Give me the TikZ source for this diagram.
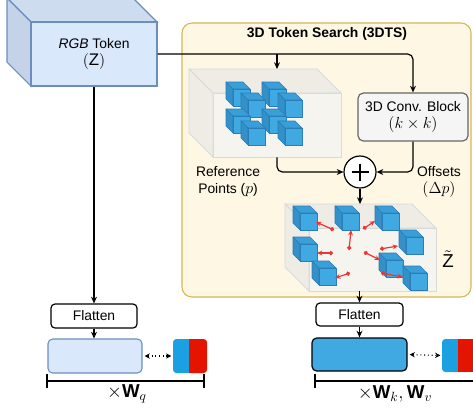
\documentclass[tikz,border=0pt]{standalone}
\usepackage{fontspec}
\setmainfont{Liberation Sans}
\usetikzlibrary{arrows.meta}

% top and left faces of a box whose bounding square starts at (#1,#2),
% width #3, height #4, depth #5; face styles are #6top / #6side
\newcommand{\cubesides}[6]{%
  \filldraw[#6top] (#1,#2) -- (#1+#3-#5,#2) -- (#1+#3,#2+#5) -- (#1+#5,#2+#5) -- cycle;
  \filldraw[#6side] (#1,#2) -- (#1+#5,#2+#5) -- (#1+#5,#2+#4) -- (#1,#2+#4-#5) -- cycle;}
% small solid blue cube
\newcommand{\bluecube}[2]{%
  \cubesides{#1}{#2}{24}{24}{7}{cube}%
  \filldraw[cubefront] (#1+7,#2+7) rectangle (#1+24,#2+24);}
% math set a little larger than the sans text
\newcommand{\mth}[1]{{\fontsize{12.6}{12.8}\selectfont$#1$}}

\definecolor{rgbF}{HTML}{DAE8FC}
\definecolor{rgbT}{HTML}{CEDCF0}
\definecolor{rgbS}{HTML}{C4D3E8}
\definecolor{rgbE}{HTML}{6C8EBF}
\definecolor{cubF}{HTML}{41A9E1}
\definecolor{cubT}{HTML}{3A9FD8}
\definecolor{cubS}{HTML}{3390C8}
\definecolor{cubE}{HTML}{2A7DB6}
\definecolor{boxF}{HTML}{F6F4EE}
\definecolor{boxS}{HTML}{EEECE5}
\definecolor{boxE}{HTML}{D9DADA}
\definecolor{panelF}{HTML}{FEF7E4}
\definecolor{panelE}{HTML}{D6B656}
\definecolor{convF}{HTML}{F5F5F5}
\definecolor{convE}{HTML}{666666}
\definecolor{tokB}{HTML}{1BA1E2}
\definecolor{tokR}{HTML}{E51400}
\definecolor{offR}{HTML}{EE3535}

\begin{document}
\begin{tikzpicture}[x=0.75pt,y=-0.75pt,
  every node/.style={font=\fontsize{10.4}{12.8}\selectfont, inner sep=0pt, align=center},
  rgbtop/.style={fill=rgbT, draw=rgbE, line width=0.8pt},
  rgbside/.style={fill=rgbS, draw=rgbE, line width=0.8pt},
  rgbfront/.style={fill=rgbF, draw=rgbE, line width=0.8pt},
  cubetop/.style={fill=cubT, draw=cubE, line width=0.5pt, line join=round},
  cubeside/.style={fill=cubS, draw=cubE, line width=0.5pt, line join=round},
  cubefront/.style={fill=cubF, draw=cubE, line width=0.5pt},
  gboxtop/.style={fill=boxS, draw=boxE, line width=0.6pt},
  gboxside/.style={fill=boxS, draw=boxE, line width=0.6pt},
  gboxfront/.style={fill=boxF, draw=boxE, line width=0.6pt},
  panel/.style={fill=panelF, draw=panelE, line width=0.8pt, rounded corners=7.5pt},
  convbox/.style={fill=convF, draw=convE, line width=0.9pt, rounded corners=4pt},
  flatbox/.style={fill=white, draw=black, line width=0.9pt, rounded corners=3pt},
  qbox/.style={fill=rgbF, draw=rgbE, line width=0.8pt, rounded corners=3.5pt},
  kvbox/.style={fill=cubF, draw=black, line width=0.9pt, rounded corners=3.5pt},
  conn/.style={draw=black, line width=0.9pt, rounded corners=4pt,
               -{Stealth[length=5pt,width=4.4pt]}},
  dotarr/.style={draw=black, line width=0.8pt, dotted,
               {Stealth[length=4pt,width=4pt]}-{Stealth[length=4pt,width=4pt]}},
  offarr/.style={draw=offR, line width=0.9pt,
               {Circle[length=3.2pt]}-{Stealth[length=4pt,width=3.6pt]}},
  bar/.style={draw=black, line width=0.9pt},
  big/.style={font=\fontsize{14}{16}\selectfont}]

\useasboundingbox (0,0) rectangle (473,408);

% ---- 3DTS panel
\draw[panel] (182,23) rectangle (471,297);
\node[font=\fontsize{10.4}{12.8}\selectfont\bfseries] (title) at (327,34) {3D Token Search (3DTS)};

% ---- RGB token cube
\cubesides{7}{-2}{150}{88}{24}{rgb}
\node[rgbfront, minimum width=126*0.75pt, minimum height=64*0.75pt] (rgb) at (94,54)
  {\textit{RGB} Token\\\mth{(\mathrm{Z})}};

% ---- reference points box
\cubesides{189}{69}{152}{88}{24}{gbox}
\node[gboxfront, minimum width=128*0.75pt, minimum height=64*0.75pt] (refbox) at (277,125) {};
\bluecube{226}{82}
\bluecube{262}{82}
\bluecube{241}{93}
\bluecube{278}{93}
\bluecube{226}{109}
\bluecube{262}{109}
\bluecube{241}{121}
\bluecube{278}{121}
\coordinate (reftop) at (277,69);

% ---- 3D conv block
\node[convbox, minimum width=110*0.75pt, minimum height=48*0.75pt] (conv) at (413,117)
  {3D Conv. Block\\\mth{(k\times k)}};

% ---- sum
\node[circle, draw=black, fill=white, line width=0.9pt, minimum size=32*0.75pt] (plus) at (360,172) {};
\draw[line width=0.8pt] (plus.center) +(-8.5,0) -- +(8.5,0) (plus.center) +(0,-8.5) -- +(0,8.5);

\node (refl) at (228,181.5) {Reference\\Points (\mth{p})};
\node (offl) at (439,182) {Offsets\\\mth{(\Delta p)}};

% ---- deformed token box
\cubesides{285}{204}{151}{87}{24}{gbox}
\node[gboxfront, minimum width=127*0.75pt, minimum height=63*0.75pt] (zt) at (372.5,259.5) {};
\bluecube{293}{206}
\bluecube{335}{206}
\bluecube{375}{206}
\bluecube{399}{230}
\bluecube{293}{237}
\bluecube{312}{261}
\bluecube{379}{253}
\bluecube{403}{266}
\coordinate (zttop) at (360,204);
\node[big] (ztl) at (448,259) {$\tilde{\mathrm{Z}}$};

% sampling offsets
\draw[offarr] (334,230) -- (316,222);
\draw[offarr] (349,250) -- (351,230);
\draw[offarr] (363,229) -- (375,221);
\draw[offarr] (333,253) -- (317,253);
\draw[offarr] (350,273) -- (335,278);
\draw[offarr] (364,252) -- (380,260);
\draw[offarr] (380,249) -- (398,246);
\draw[offarr] (381,273) -- (403,277);

% ---- flatten / projection row
\node[flatbox, minimum width=86*0.75pt, minimum height=24*0.75pt] (flat1) at (94,316) {Flatten};
\node[qbox, minimum width=94*0.75pt, minimum height=34*0.75pt] (qrect) at (95,356) {};
\node[flatbox, minimum width=87*0.75pt, minimum height=23*0.75pt] (flat2) at (359.5,314.5) {Flatten};
\node[kvbox, minimum width=95*0.75pt, minimum height=33*0.75pt] (kvrect) at (359.5,354.5) {};

% token pairs
\fill[tokB, rounded corners=2.5pt] (173,339) rectangle (200,373);
\fill[tokR, rounded corners=2.5pt] (189,339) rectangle (207,373);
\fill[tokR] (189,339) rectangle (196,373);
\node[minimum width=34*0.75pt, minimum height=34*0.75pt] (qtok) at (190,356) {};
\fill[tokB, rounded corners=2.5pt] (442,339) rectangle (470,372);
\fill[tokR] (458,339) rectangle (480,372);
\node[minimum width=38*0.75pt, minimum height=33*0.75pt] (kvtok) at (461,355.5) {};

% ---- connectors
\draw[conn] (rgb.east) -| (conv.north);
\draw[conn] (rgb.east -| reftop) -- (reftop);
\draw[conn] (refbox.south) |- (plus.west);
\draw[conn] (conv.south) |- (plus.east);
\draw[conn] (plus.south) -- (zttop);
\draw[conn] (rgb.south) -- (flat1.north);
\draw[conn] (flat2.north |- zt.south) -- (flat2.north);
\draw[conn] (flat1.south) -- (flat1.south |- qrect.north);
\draw[conn] (flat2.south) -- (flat2.south |- kvrect.north);
\draw[dotarr, shorten <=1.5pt, shorten >=1pt] (qrect.east) -- (qtok.west);
\draw[dotarr, shorten <=1.5pt, shorten >=1pt] (kvrect.east) -- (kvtok.west);

% ---- projection spans
\draw[bar] (47,374) -- (47,388) (47,381) -- (204,381) (204,374) -- (204,388);
\draw[bar] (315,374) -- (315,388) (315,381) -- (480,381);
\node[big] (wq) at (127,394) {$\times\mathbf{W}_q$};
\node[big] (wkv) at (395,394) {$\times\mathbf{W}_k,\mathbf{W}_v$};

\end{tikzpicture}
\end{document}
